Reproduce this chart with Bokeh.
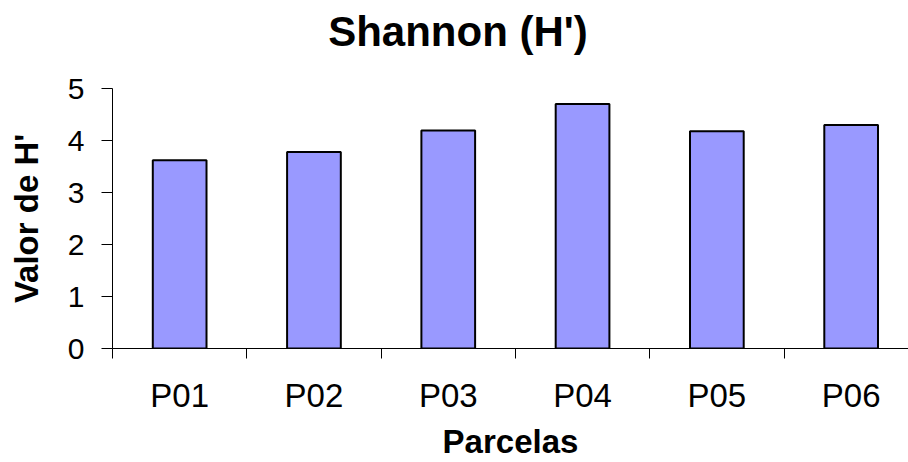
from bokeh.plotting import figure
from bokeh.models import Range1d, FixedTicker, ColumnDataSource, LinearAxis
from bokeh.embed import file_html
from bokeh.resources import INLINE

categories = ["P01", "P02", "P03", "P04", "P05", "P06"]
shannon = [3.62, 3.78, 4.19, 4.70, 4.18, 4.30]
y_ticks = [0, 1, 2, 3, 4, 5]
title_text = "Shannon (H')"

FONT = "Liberation Sans"

xs = [i + 0.5 for i in range(len(categories))]
src = ColumnDataSource(data=dict(x=xs, top=shannon, cat=categories))

p = figure(width=908, height=462, output_backend="svg", toolbar_location=None,
           title_location=None,
           x_range=Range1d(0, 5.927), y_range=Range1d(0, 5),
           min_border_left=112, min_border_right=0, min_border_top=88, min_border_bottom=114)

p.vbar(x="x", top="top", width=0.4, bottom=0, source=src,
       fill_color="#9999FF", line_color="black", line_width=2)

p.grid.visible = False
p.outline_line_color = None
p.background_fill_color = "white"
p.border_fill_color = "white"

# x axis: labels at category centres, tick marks at category boundaries
xa = p.below[0]
xa.ticker = FixedTicker(ticks=xs, minor_ticks=list(range(len(categories) + 1)))
xa.major_label_overrides = {x: c for x, c in zip(xs, categories)}
xa.major_tick_line_color = None
xa.major_tick_out = 10
xa.major_tick_in = 0
xa.minor_tick_out = 10
xa.minor_tick_in = 0
xa.minor_tick_line_color = "black"
xa.axis_line_color = "black"
xa.major_label_text_font = FONT
xa.major_label_text_font_size = "33px"
xa.major_label_text_color = "black"
xa.major_label_standoff = 18
xa.axis_label = "Parcelas"
xa.axis_label_text_font = FONT
xa.axis_label_text_font_size = "33px"
xa.axis_label_text_font_style = "bold"
xa.axis_label_text_color = "black"
xa.axis_label_text_line_height = 0.3
xa.axis_label_standoff = 6

# y axis
ya = p.left[0]
ya.ticker = FixedTicker(ticks=y_ticks)
ya.major_tick_out = 11
ya.major_tick_in = 0
ya.minor_tick_line_color = None
ya.axis_line_color = "black"
ya.major_tick_line_color = "black"
ya.major_label_text_font = FONT
ya.major_label_text_font_size = "30px"
ya.major_label_text_color = "black"
ya.major_label_standoff = 17
ya.axis_label = "Valor de H'"
ya.axis_label_text_font = FONT
ya.axis_label_text_font_size = "33px"
ya.axis_label_text_font_style = "bold"
ya.axis_label_text_color = "black"
ya.axis_label_standoff = 20

# chart title drawn as the label of a bare axis above the frame;
# trailing no-break spaces shift its centre left, as in the original
ta = LinearAxis(ticker=FixedTicker(ticks=[]),
                axis_line_color=None, major_tick_line_color=None, minor_tick_line_color=None,
                major_tick_out=0, major_tick_in=0, minor_tick_out=0, minor_tick_in=0,
                major_label_standoff=0, major_label_text_font_size="0px",
                axis_label=title_text + "\u00a0" * 9, axis_label_text_font=FONT,
                axis_label_text_font_size="42px", axis_label_text_font_style="bold",
                axis_label_text_color="black", axis_label_standoff=34)
p.add_layout(ta, "above")

open("out.html", "w").write(file_html(p, INLINE))
